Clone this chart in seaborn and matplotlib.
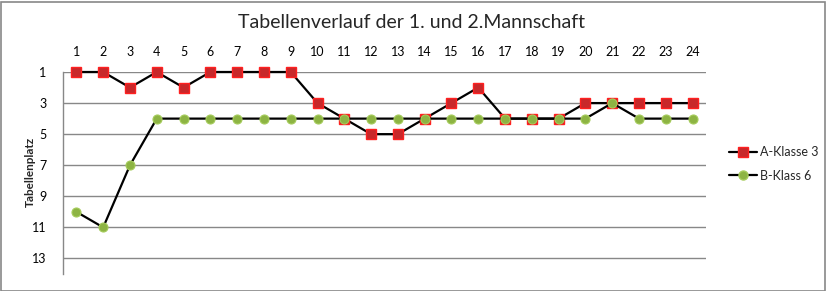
import matplotlib
matplotlib.use("Agg")
import matplotlib.pyplot as plt
import seaborn as sns
import pandas as pd
from matplotlib.lines import Line2D
from matplotlib.patches import Rectangle

spieltage = list(range(1, 25))
a_klasse_3 = [1, 1, 2, 1, 2, 1, 1, 1, 1, 3, 4, 5, 5, 4, 3, 2, 4, 4, 4, 3, 3, 3, 3, 3]
b_klass_6 = [10, 11, 7, 4, 4, 4, 4, 4, 4, 4, 4, 4, 4, 4, 4, 4, 4, 4, 4, 4, 3, 4, 4, 4]
y_ticks = [1, 3, 5, 7, 9, 11, 13]
series_names = ["A-Klasse 3", "B-Klass 6"]

sns.set_theme(style="white")
plt.rcParams["font.family"] = ["Lato", "DejaVu Sans"]

df = pd.DataFrame({
    "Spieltag": spieltage * 2,
    "Platz": a_klasse_3 + b_klass_6,
    "Mannschaft": [series_names[0]] * 24 + [series_names[1]] * 24,
})

fig = plt.figure(figsize=(8.26, 2.91), dpi=100)
ax = fig.add_axes([63 / 826, 1 - 274 / 291, (706 - 63) / 826, (274 - 72) / 291])

red_face, red_edge = "#c8282a", "#ff2020"
green_face, green_edge = "#8db443", "#a6cc5c"

sns.lineplot(data=df[df["Mannschaft"] == series_names[0]], x="Spieltag", y="Platz",
             color="black", linewidth=1.6, marker="s", markersize=7,
             markerfacecolor=red_face, markeredgecolor=red_edge, markeredgewidth=1.0,
             ax=ax, legend=False, zorder=3, clip_on=False)
sns.lineplot(data=df[df["Mannschaft"] == series_names[1]], x="Spieltag", y="Platz",
             color="black", linewidth=1.6, marker="o", markersize=6.5,
             markerfacecolor=green_face, markeredgecolor=green_edge, markeredgewidth=0.8,
             ax=ax, legend=False, zorder=4, clip_on=False)

ax.set_xlim(0.5, 24.5)
ax.set_ylim(14, 1)
ax.set_xticks(spieltage)
ax.set_yticks(y_ticks)
ax.xaxis.tick_top()
ax.tick_params(axis="x", length=0, pad=10, labelsize=9, colors="black")
ax.tick_params(axis="y", length=0, pad=12, labelsize=9, colors="black")
ax.set_xlabel("")
ax.set_ylabel("Tabellenplatz", fontsize=8.5, fontweight="bold", labelpad=8)
ax.yaxis.set_label_coords(-27 / 643, 0.505)
ax.grid(axis="y", color="#888888", linewidth=1.0)
ax.grid(axis="x", visible=False)
for s in ["top", "right", "bottom"]:
    ax.spines[s].set_visible(False)
ax.spines["left"].set_color("#888888")
ax.spines["left"].set_linewidth(1.0)

fig.suptitle("Tabellenverlauf der 1. und 2.Mannschaft", y=1 - 22 / 291, va="center",
             x=411 / 826, fontsize=14)

handles = [
    Line2D([], [], color="black", linewidth=1.6, marker="s", markersize=7,
           markerfacecolor=red_face, markeredgecolor=red_edge),
    Line2D([], [], color="black", linewidth=1.6, marker="o", markersize=6.5,
           markerfacecolor=green_face, markeredgecolor=green_edge),
]
fig.legend(handles, series_names, loc="center left", bbox_to_anchor=(718 / 826, 1 - 164 / 291),
           frameon=False, fontsize=9, handlelength=2.2, handletextpad=0.3, labelspacing=0.9)

fig.add_artist(Rectangle((0.5 / 826, 0.5 / 291), 824 / 826, 289 / 291, transform=fig.transFigure,
                         fill=False, edgecolor="#888888", linewidth=1.2))

fig.savefig("out.png", dpi=100)
